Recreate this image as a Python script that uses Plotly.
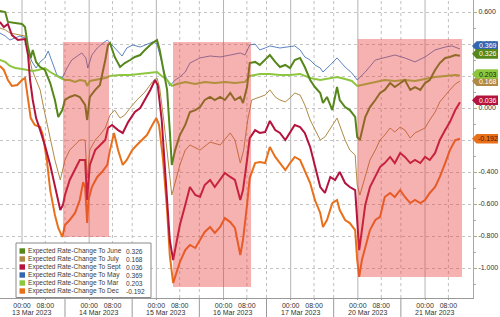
import plotly.graph_objects as go

# ---------------- data (x = trading-day index, 0 = 13 Mar 00:00) ----------------
day_labels = ["13 Mar 2023", "14 Mar 2023", "15 Mar 2023", "16 Mar 2023",
              "17 Mar 2023", "20 Mar 2023", "21 Mar 2023"]
hour_labels = ["00:00", "08:00"]

june_t = [-0.33, -0.25, -0.21, -0.10, 0.0, 0.045, 0.09, 0.13, 0.16, 0.21, 0.27, 0.34, 0.42, 0.49, 0.54, 0.60, 0.64, 0.71, 0.79, 0.86, 0.94, 0.97, 0.98, 1.01, 1.09, 1.16, 1.24, 1.28, 1.31, 1.38, 1.46, 1.53, 1.61, 1.68, 1.76, 1.83, 1.94, 2.01, 2.05, 2.10, 2.16, 2.20, 2.23, 2.28, 2.35, 2.43, 2.50, 2.58, 2.65, 2.72, 2.80, 2.87, 2.95, 3.02, 3.10, 3.17, 3.25, 3.29, 3.35, 3.39, 3.47, 3.54, 3.62, 3.69, 3.77, 3.84, 3.92, 3.99, 4.06, 4.14, 4.21, 4.29, 4.36, 4.44, 4.48, 4.54, 4.62, 4.69, 4.73, 4.81, 4.88, 4.96, 4.99, 5.03, 5.11, 5.18, 5.26, 5.33, 5.40, 5.48, 5.55, 5.63, 5.70, 5.78, 5.85, 5.93, 6.00, 6.07, 6.15, 6.22, 6.30, 6.37, 6.45, 6.52]
june_v = [0.606, 0.60, 0.538, 0.531, 0.525, 0.506, 0.381, 0.313, 0.363, 0.288, 0.256, 0.238, 0.156, 0.05, -0.056, -0.013, 0.05, 0.069, 0.081, 0.069, 0.019, -0.075, -0.025, 0.069, 0.113, 0.144, 0.30, 0.394, 0.406, 0.319, 0.256, 0.281, 0.30, 0.319, 0.331, 0.363, 0.406, 0.425, 0.363, 0.256, 0.113, -0.138, -0.356, -0.263, -0.169, -0.106, -0.025, -0.013, 0.006, 0.05, 0.069, 0.05, 0.069, 0.05, 0.094, 0.05, 0.069, 0.031, 0.131, 0.281, 0.288, 0.269, 0.30, 0.331, 0.288, 0.256, 0.269, 0.25, 0.30, 0.313, 0.256, 0.175, 0.131, 0.094, 0.031, 0.069, -0.013, 0.131, 0.05, 0.006, -0.013, -0.056, -0.181, -0.20, -0.056, 0.006, 0.05, 0.094, 0.113, 0.156, 0.131, 0.156, 0.175, 0.113, 0.131, 0.113, 0.156, 0.175, 0.238, 0.281, 0.313, 0.319, 0.331, 0.326]

july_t = [-0.33, -0.25, -0.18, -0.10, -0.03, 0.045, 0.09, 0.15, 0.21, 0.27, 0.33, 0.42, 0.49, 0.57, 0.64, 0.71, 0.79, 0.86, 0.94, 0.97, 1.01, 1.09, 1.16, 1.24, 1.31, 1.38, 1.46, 1.53, 1.61, 1.71, 1.83, 1.94, 2.01, 2.05, 2.11, 2.17, 2.23, 2.29, 2.35, 2.43, 2.50, 2.65, 2.80, 2.95, 3.10, 3.17, 3.25, 3.30, 3.36, 3.42, 3.51, 3.62, 3.69, 3.77, 3.84, 3.92, 3.99, 4.06, 4.14, 4.21, 4.29, 4.36, 4.44, 4.51, 4.59, 4.69, 4.81, 4.88, 4.96, 4.99, 5.03, 5.11, 5.18, 5.26, 5.33, 5.40, 5.48, 5.55, 5.63, 5.70, 5.78, 5.85, 5.93, 6.00, 6.07, 6.15, 6.22, 6.30, 6.37, 6.45, 6.52]
july_v = [0.50, 0.488, 0.469, 0.463, 0.456, 0.45, 0.35, 0.238, 0.175, 0.113, -0.013, -0.20, -0.325, -0.45, -0.325, -0.263, -0.231, -0.20, -0.20, -0.438, -0.263, -0.20, -0.169, -0.125, -0.044, -0.013, -0.063, -0.044, 0.0, 0.05, 0.10, 0.163, 0.188, 0.125, -0.075, -0.325, -0.544, -0.45, -0.356, -0.263, -0.231, -0.263, -0.213, -0.231, -0.156, -0.20, -0.344, -0.263, -0.075, 0.05, 0.063, 0.081, 0.113, 0.069, 0.05, 0.038, 0.063, 0.094, 0.081, 0.019, -0.075, -0.138, -0.20, -0.181, -0.125, -0.063, -0.20, -0.263, -0.294, -0.481, -0.544, -0.419, -0.325, -0.263, -0.20, -0.169, -0.125, -0.15, -0.119, -0.138, -0.188, -0.156, -0.138, -0.125, -0.075, -0.025, 0.038, 0.081, 0.113, 0.15, 0.168]

sept_t = [-0.33, -0.27, -0.21, -0.15, -0.06, 0.045, 0.09, 0.12, 0.16, 0.21, 0.27, 0.34, 0.42, 0.49, 0.57, 0.61, 0.64, 0.71, 0.79, 0.86, 0.94, 0.97, 0.98, 1.01, 1.09, 1.16, 1.24, 1.28, 1.34, 1.43, 1.50, 1.58, 1.68, 1.76, 1.83, 1.91, 1.98, 2.02, 2.08, 2.14, 2.20, 2.25, 2.29, 2.35, 2.43, 2.50, 2.58, 2.65, 2.72, 2.80, 2.87, 2.95, 3.02, 3.10, 3.17, 3.25, 3.29, 3.35, 3.39, 3.47, 3.54, 3.62, 3.69, 3.77, 3.84, 3.92, 3.99, 4.06, 4.14, 4.21, 4.29, 4.36, 4.44, 4.51, 4.59, 4.66, 4.73, 4.81, 4.88, 4.96, 4.99, 5.02, 5.06, 5.11, 5.18, 5.26, 5.33, 5.40, 5.48, 5.55, 5.63, 5.70, 5.78, 5.85, 5.93, 6.00, 6.07, 6.15, 6.22, 6.30, 6.37, 6.45, 6.52]
sept_v = [0.538, 0.506, 0.525, 0.456, 0.425, 0.431, 0.331, 0.175, 0.05, -0.063, -0.138, -0.231, -0.356, -0.481, -0.638, -0.606, -0.544, -0.45, -0.388, -0.325, -0.325, -0.575, -0.513, -0.356, -0.263, -0.231, -0.20, -0.125, -0.106, -0.138, -0.156, -0.088, -0.025, 0.0, 0.05, 0.113, 0.175, 0.144, -0.075, -0.45, -0.825, -0.95, -0.856, -0.731, -0.606, -0.494, -0.544, -0.556, -0.481, -0.45, -0.494, -0.45, -0.406, -0.431, -0.45, -0.575, -0.513, -0.325, -0.188, -0.138, -0.156, -0.15, -0.081, -0.138, -0.156, -0.20, -0.156, -0.106, -0.119, -0.156, -0.244, -0.369, -0.494, -0.531, -0.431, -0.45, -0.40, -0.469, -0.494, -0.513, -0.731, -0.888, -0.763, -0.606, -0.494, -0.431, -0.369, -0.344, -0.306, -0.344, -0.281, -0.306, -0.344, -0.325, -0.344, -0.306, -0.325, -0.281, -0.20, -0.138, -0.088, -0.013, 0.036]

may_t = [-0.33, -0.25, -0.18, -0.10, -0.03, 0.045, 0.09, 0.15, 0.21, 0.27, 0.34, 0.39, 0.45, 0.52, 0.60, 0.67, 0.74, 0.82, 0.89, 0.95, 0.98, 1.04, 1.12, 1.19, 1.27, 1.34, 1.43, 1.49, 1.56, 1.65, 1.76, 1.86, 1.95, 2.01, 2.07, 2.13, 2.20, 2.28, 2.35, 2.43, 2.50, 2.65, 2.80, 2.95, 3.10, 3.25, 3.32, 3.39, 3.47, 3.54, 3.62, 3.69, 3.84, 3.99, 4.06, 4.14, 4.21, 4.29, 4.36, 4.44, 4.48, 4.59, 4.69, 4.81, 4.91, 4.99, 5.11, 5.26, 5.40, 5.55, 5.70, 5.85, 6.00, 6.15, 6.30, 6.40, 6.52]
may_v = [0.469, 0.45, 0.425, 0.438, 0.45, 0.438, 0.35, 0.288, 0.25, 0.288, 0.313, 0.356, 0.288, 0.206, 0.188, 0.25, 0.30, 0.325, 0.344, 0.313, 0.25, 0.331, 0.375, 0.40, 0.425, 0.394, 0.35, 0.325, 0.375, 0.394, 0.381, 0.40, 0.413, 0.40, 0.30, 0.206, 0.138, 0.175, 0.194, 0.225, 0.281, 0.313, 0.325, 0.319, 0.331, 0.344, 0.331, 0.394, 0.40, 0.363, 0.375, 0.388, 0.375, 0.381, 0.388, 0.363, 0.319, 0.30, 0.269, 0.25, 0.225, 0.269, 0.313, 0.256, 0.219, 0.175, 0.225, 0.30, 0.313, 0.331, 0.313, 0.288, 0.319, 0.363, 0.381, 0.388, 0.369]

mar_t = [-0.33, -0.25, -0.18, -0.10, 0.0, 0.09, 0.16, 0.24, 0.34, 0.42, 0.49, 0.57, 0.64, 0.71, 0.79, 0.86, 0.94, 0.97, 1.01, 1.09, 1.16, 1.24, 1.31, 1.46, 1.61, 1.76, 1.91, 2.01, 2.08, 2.16, 2.23, 2.31, 2.43, 2.58, 2.72, 2.87, 3.02, 3.17, 3.32, 3.39, 3.54, 3.69, 3.84, 3.99, 4.14, 4.29, 4.44, 4.59, 4.69, 4.81, 4.91, 4.99, 5.11, 5.26, 5.40, 5.55, 5.70, 5.85, 6.00, 6.15, 6.30, 6.45, 6.52]
mar_v = [0.30, 0.288, 0.263, 0.25, 0.244, 0.238, 0.231, 0.238, 0.25, 0.225, 0.206, 0.188, 0.175, 0.175, 0.163, 0.175, 0.169, 0.138, 0.169, 0.175, 0.181, 0.188, 0.20, 0.206, 0.206, 0.213, 0.219, 0.225, 0.20, 0.175, 0.138, 0.15, 0.163, 0.15, 0.163, 0.156, 0.163, 0.156, 0.163, 0.20, 0.213, 0.213, 0.206, 0.206, 0.213, 0.188, 0.175, 0.188, 0.194, 0.181, 0.169, 0.138, 0.15, 0.163, 0.175, 0.169, 0.175, 0.169, 0.181, 0.194, 0.20, 0.206, 0.203]

dec_t = [-0.33, -0.27, -0.21, -0.15, -0.07, 0.0, 0.045, 0.09, 0.13, 0.19, 0.27, 0.31, 0.37, 0.42, 0.49, 0.54, 0.60, 0.64, 0.71, 0.79, 0.86, 0.91, 0.94, 0.97, 0.99, 1.04, 1.12, 1.19, 1.27, 1.31, 1.37, 1.43, 1.50, 1.56, 1.64, 1.71, 1.79, 1.86, 1.94, 2.00, 2.04, 2.10, 2.16, 2.20, 2.25, 2.29, 2.35, 2.43, 2.50, 2.58, 2.65, 2.72, 2.80, 2.87, 2.95, 3.02, 3.10, 3.17, 3.25, 3.29, 3.35, 3.39, 3.47, 3.54, 3.62, 3.69, 3.77, 3.84, 3.92, 3.99, 4.06, 4.14, 4.21, 4.29, 4.36, 4.44, 4.48, 4.54, 4.62, 4.69, 4.73, 4.81, 4.88, 4.96, 4.99, 5.02, 5.06, 5.11, 5.18, 5.26, 5.33, 5.40, 5.48, 5.55, 5.63, 5.70, 5.78, 5.85, 5.93, 6.00, 6.07, 6.15, 6.22, 6.30, 6.37, 6.45, 6.52]
dec_v = [0.263, 0.238, 0.175, 0.138, 0.144, 0.175, 0.188, 0.05, -0.063, -0.106, -0.119, -0.169, -0.325, -0.513, -0.669, -0.75, -0.806, -0.731, -0.70, -0.656, -0.575, -0.463, -0.494, -0.719, -0.575, -0.494, -0.431, -0.40, -0.356, -0.263, -0.156, -0.263, -0.356, -0.325, -0.263, -0.231, -0.20, -0.169, -0.106, -0.063, -0.106, -0.325, -0.638, -0.919, -1.094, -1.044, -0.963, -0.888, -0.856, -0.875, -0.825, -0.775, -0.744, -0.781, -0.744, -0.688, -0.713, -0.75, -0.919, -0.825, -0.606, -0.438, -0.344, -0.338, -0.344, -0.244, -0.306, -0.344, -0.388, -0.344, -0.306, -0.325, -0.388, -0.469, -0.575, -0.656, -0.744, -0.70, -0.594, -0.575, -0.638, -0.70, -0.719, -0.763, -0.95, -1.056, -0.95, -0.869, -0.763, -0.70, -0.681, -0.556, -0.531, -0.556, -0.513, -0.556, -0.594, -0.575, -0.594, -0.575, -0.531, -0.494, -0.431, -0.344, -0.263, -0.20, -0.192]

# highlighted (pink) windows
shade_start = [0.61, 2.248, 5.0]
shade_end = [1.295, 3.41, 6.55]
shade_top = [0.4125, 0.4125, 0.431]
shade_bottom = [-0.806, -1.119, -1.056]

y_ticks = [-1.0, -0.8, -0.6, -0.4, -0.2, 0.0, 0.2, 0.4, 0.6]

# ---------------- styling ----------------
series = {
    "June": (june_t, june_v, "#56871b", 2.0, "white"),
    "July": (july_t, july_v, "#b08a45", 1.0, "white"),
    "Sept": (sept_t, sept_v, "#b3133d", 2.0, "white"),
    "May": (may_t, may_v, "#3266b0", 0.8, "white"),
    "Mar": (mar_t, mar_v, "#8dc63f", 2.0, "#1c2a08"),
    "Dec": (dec_t, dec_v, "#e8701a", 2.0, "#3a1600"),
}
legend_order = ["June", "July", "Sept", "May", "Mar", "Dec"]
draw_order = ["May", "July", "Mar", "Dec", "Sept", "June"]
tag_order = ["May", "June", "July", "Mar", "Sept", "Dec"]
tag_shift = {"May": 3.0, "June": 2.0, "Mar": 1.5, "Sept": 2.0}   # pixel nudge of crowded tags

FONT = "Liberation Sans"
W, H = 500, 317
ML, MR, MT, MB = 0, 27, 0, 19
PW, PH = W - ML - MR, H - MT - MB
XMIN, XMAX = -0.3275, 6.714
YMIN, YMAX = -1.1875, 0.675
H08 = 8 / 23.0          # 08:00 within a 23h session
BOUND = 0.64            # session boundary


def px(x):
    return x / PW


def py(y):
    return (PH - y) / PH


def vy(v):
    return (v - YMIN) / (YMAX - YMIN)


fig = go.Figure()
for name in draw_order:
    t, v, col, w, _ = series[name]
    fig.add_trace(go.Scatter(x=t, y=v, mode="lines", name=name,
                             line=dict(color=col, width=w), showlegend=False,
                             hoverinfo="skip"))

shapes = []
annotations = []
ndays = len(day_labels)
# vertical grid
for d in range(ndays):
    shapes.append(dict(type="line", xref="x", yref="paper", x0=d, x1=d, y0=0, y1=1,
                       line=dict(color="#b4b4b4", width=1), layer="between"))
    shapes.append(dict(type="line", xref="x", yref="paper", x0=d + H08, x1=d + H08, y0=0, y1=1,
                       line=dict(color="#c0c0c0", width=1, dash="dot"), layer="between"))
    if d < ndays - 1:
        b = d + BOUND
        shapes.append(dict(type="line", xref="x", yref="paper", x0=b, x1=b, y0=0, y1=1,
                           line=dict(color="#c0c0c0", width=1, dash="dot"), layer="between"))
        shapes.append(dict(type="line", xref="x", yref="paper", x0=b, x1=b, y0=0, y1=-MB / PH,
                           line=dict(color="#9a9a9a", width=1), layer="above"))
    annotations.append(dict(x=d + 0.14, xref="x", y=0, yref="paper", yanchor="top",
                            yshift=-9.5, text=day_labels[d], showarrow=False, borderpad=0,
                            font=dict(family=FONT, size=7, color="#333")))

# pink windows (semi-transparent overlay)
for a, b, top, bot in zip(shade_start, shade_end, shade_top, shade_bottom):
    shapes.append(dict(type="rect", xref="x", yref="y", x0=a, x1=b, y0=bot, y1=top,
                       fillcolor="rgba(232,60,60,0.40)", line=dict(width=0), layer="above"))

# legend box
shapes.append(dict(type="rect", xref="paper", yref="paper", x0=px(16), x1=px(151),
                   y0=py(297.5), y1=py(243), fillcolor="white",
                   line=dict(color="#8a8a8a", width=1), layer="above"))
for i, name in enumerate(legend_order):
    t, v, col, w, _ = series[name]
    yc = 251 + 8 * i
    shapes.append(dict(type="rect", xref="paper", yref="paper", x0=px(19.5), x1=px(25),
                       y0=py(yc + 2.7), y1=py(yc - 2.7), fillcolor=col,
                       line=dict(width=0), layer="above"))
    annotations.append(dict(x=px(27), xref="paper", y=py(yc), yref="paper", xanchor="left",
                            yanchor="middle", text=f"Expected Rate-Change To {name}",
                            showarrow=False, borderpad=0,
                            font=dict(family=FONT, size=6.6, color="#3a3a3a")))
    annotations.append(dict(x=px(125), xref="paper", y=py(yc), yref="paper", xanchor="left",
                            yanchor="middle", text=f"{v[-1]:.3f}",
                            showarrow=False, borderpad=0,
                            font=dict(family=FONT, size=6.6, color="#3a3a3a")))

# right-hand value tags
for name in tag_order:
    t, v, col, w, tcol = series[name]
    yc = vy(v[-1]) + tag_shift.get(name, 0.0) / PH
    hh = 4.8 / PH
    path = (f"M {px(472)},{yc} L {px(476.5)},{yc + hh} L {px(498)},{yc + hh} "
            f"L {px(498)},{yc - hh} L {px(476.5)},{yc - hh} Z")
    shapes.append(dict(type="path", xref="paper", yref="paper", path=path,
                       fillcolor=col, line=dict(width=0), layer="above"))
    annotations.append(dict(x=px(487.5), xref="paper", y=yc, yref="paper", xanchor="center",
                            yanchor="middle", text=f"{v[-1]:.3f}", showarrow=False,
                            borderpad=0, font=dict(family=FONT, size=7, color=tcol)))

tickvals = []
ticktext = []
for d in range(ndays):
    tickvals += [d, d + H08]
    ticktext += hour_labels

fig.update_layout(
    width=W, height=H,
    margin=dict(l=ML, r=MR, t=MT, b=MB),
    paper_bgcolor="white", plot_bgcolor="white",
    showlegend=False,
    shapes=shapes, annotations=annotations,
    xaxis=dict(range=[XMIN, XMAX], showgrid=False, zeroline=False,
               showline=True, linecolor="#9a9a9a", linewidth=1,
               tickvals=tickvals, ticktext=ticktext, ticks="outside", ticklen=1,
               tickcolor="#9a9a9a", tickfont=dict(family=FONT, size=7, color="#333")),
    yaxis=dict(range=[YMIN, YMAX], side="right", zeroline=False,
               showgrid=True, gridcolor="#c4c4c4", griddash="dot", gridwidth=1,
               showline=True, linecolor="#a9ad86", linewidth=1,
               tickvals=y_ticks, ticktext=[f"{v:.3f}" for v in y_ticks],
               ticks="outside", ticklen=3, tickcolor="#a9ad86",
               tickfont=dict(family=FONT, size=7, color="#333"),
               minor=dict(dtick=0.1, ticks="outside", ticklen=2, tickcolor="#a9ad86",
                          showgrid=False)),
)

fig.write_html("out.html")
